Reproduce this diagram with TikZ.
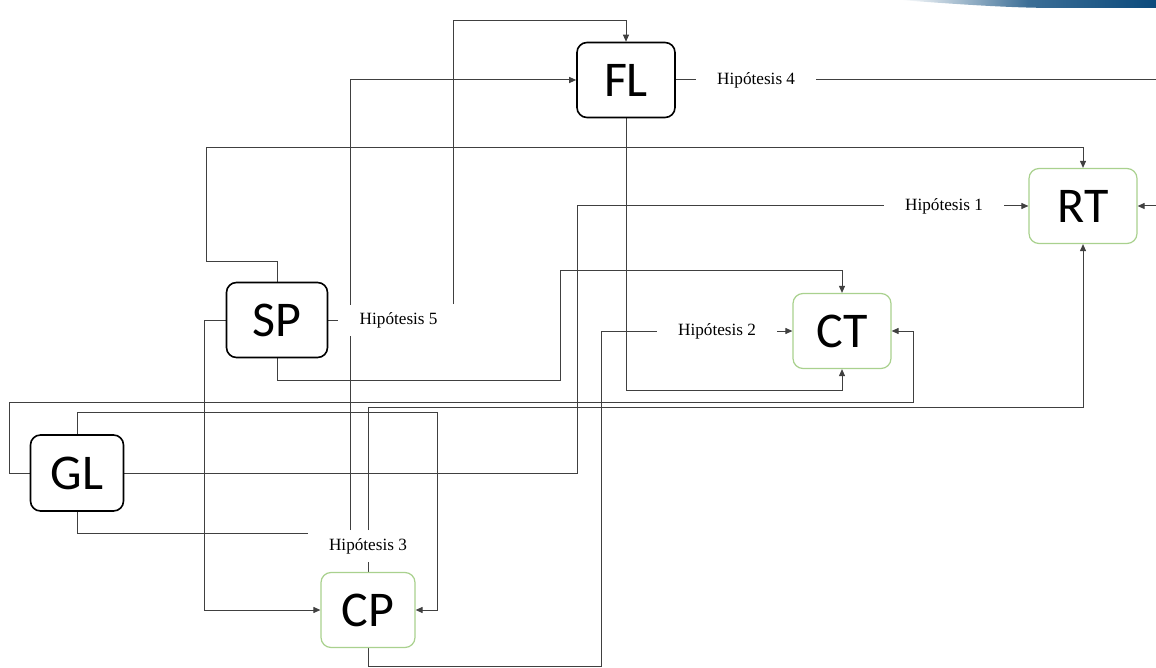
\documentclass[tikz,border=0pt]{standalone}
\usepackage{fontspec}
\setmainfont{Liberation Serif}
\newfontfamily\boxfont{Carlito}
\usetikzlibrary{arrows.meta, positioning, calc, backgrounds}
\definecolor{lineGrey}{HTML}{404040}
\definecolor{boxGreen}{HTML}{A9D18E}
\definecolor{bandBlue}{HTML}{0B4A7C}

\begin{document}
\begin{tikzpicture}[x=0.5pt, y=-0.5pt,
  vb/.style={rectangle, rounded corners=5pt, draw=black, line width=0.8pt, fill=white,
             font=\boxfont\fontsize{25}{28}\selectfont, minimum width=49pt, minimum height=37.5pt},
  db/.style={vb, draw=boxGreen, line width=0.6pt},
  hy/.style={fill=white, font=\fontsize{8.6}{10}\selectfont, inner xsep=10.5pt, inner ysep=0pt,
             minimum height=15.5pt},
  ln/.style={draw=lineGrey, line width=0.5pt},
  ed/.style={ln, -{Triangle[length=3.5pt, width=3pt]}}]
\useasboundingbox (0,0) rectangle (1156,668);
\shade[left color=white, right color=bandBlue, middle color=bandBlue!80]
  (900,0) .. controls (980,6) and (1020,8) .. (1060,8) -- (1156,8) -- (1156,0) -- cycle;
% variables
\node[vb] (fl) at (626,80) {FL};
\node[db, minimum width=54pt] (rt) at (1083,206) {RT};
\node[vb, minimum width=50.5pt] (sp) at (277,320) {SP};
\node[db] (ct) at (842,331) {CT};
\node[vb, minimum width=46.5pt, minimum height=38pt] (gl) at (77,473) {GL};
\node[db, minimum width=47pt] (cp) at (368,610) {CP};
% hypotheses
\node[hy, right=10pt of fl] (h4) {Hipótesis 4};
\node[hy, left=12pt of rt] (h1) {Hipótesis 1};
\node[hy, right=5pt of sp] (h5) {Hipótesis 5};
\node[hy, left=7.5pt of ct] (h2) {Hipótesis 2};
\node[hy, above=5pt of cp] (h3) {Hipótesis 3};
\begin{scope}[on background layer]
\draw[ed] ($(h5.north)+(55,0)$) |- ($(fl.north)+(0,-21)$) -- (fl.north);
\draw[ed] ($(h3.north)+(-18,0)$) |- (fl.west);
\draw[ed] (h3.north) -- ++(0,-123) -| (rt.south);
\draw[ln] (sp.east) -- (h5.west);
\draw[ln] (cp.north) -- (h3.south);
\draw[ln] (gl.south) |- ($(h3.north west)+(0,3)$);
\draw[ed] (gl.north) -- ++(0,-22) -| ($(cp.east)+(22,0)$) -- (cp.east);
\draw[ed] (gl.west) -- ++(-20,0) |- ($(ct.east)+(22,71)$) |- (ct.east);
\draw[ln] (gl.east) -- ++(453,0) |- (h1.west);
\draw[ed] (h1.east) -- (rt.west);
\draw[ed] (sp.south) -- ++(0,22) -| ($(ct.north)+(-282,-22)$) -| (ct.north);
\draw[ed] (fl.south) |- ($(ct.south)+(0,21)$) -- (ct.south);
\draw[ln] (cp.south) -- ++(0,18) -| ($(h2.west)+(-55,0)$) -- (h2.west);
\draw[ed] (h2.east) -- (ct.west);
\draw[ed] (sp.north) -- ++(0,-20) -- ++(-71,0) |- ($(rt.north)+(0,-20)$) -- (rt.north);
\draw[ed] (sp.west) -- ++(-21,0) |- (cp.west);
\draw[ln] (fl.east) -- (h4.west);
\draw[ed] (h4.east) -- ++(360,0) |- (rt.east);
\end{scope}
\end{tikzpicture}
\end{document}
